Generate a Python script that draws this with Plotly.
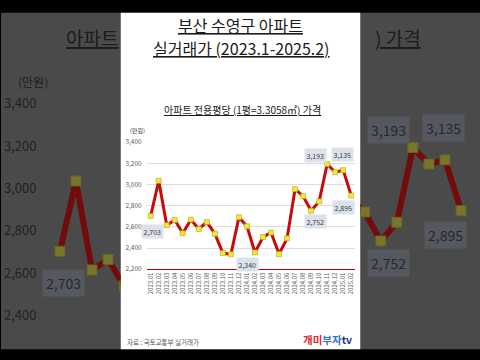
import plotly.graph_objects as go

# ---------------- data ----------------
months = ['2023.01', '2023.02', '2023.03', '2023.04', '2023.05', '2023.06', '2023.07',
          '2023.08', '2023.09', '2023.10', '2023.11', '2023.12', '2024.01', '2024.02',
          '2024.03', '2024.04', '2024.05', '2024.06', '2024.07', '2024.08', '2024.09',
          '2024.10', '2024.11', '2024.12', '2025.01', '2025.02']
prices = [2703, 3035, 2615, 2665, 2540, 2668, 2580, 2645, 2535, 2352, 2340, 2690, 2605,
          2358, 2503, 2546, 2343, 2491, 2956, 2889, 2752, 2840, 3193, 3115, 3135, 2895]
y_ticks = [2200, 2400, 2600, 2800, 3000, 3200, 3400]
labeled = [0, 10, 20, 22, 24, 25]          # indices of points with value labels

# ---------------- style ----------------
FONT = "Noto Sans CJK KR"
TITLE_FONT = "Liberation Sans Narrow, Noto Sans CJK KR"
W, H = 480, 360
# label offsets (px, screen: right / up) for the labelled points
label_shift = {0: (2, -16), 10: (17, -10), 20: (4, -11), 22: (-12, 9), 24: (-1, 16), 25: (-8, -12)}


def px_x(p):
    return p / W


def px_y(p):
    return 1 - p / H


fig = go.Figure()

# main chart
fig.add_trace(go.Scatter(
    x=months, y=prices, mode='lines+markers', xaxis='x', yaxis='y',
    line=dict(color='#c80a0a', width=3),
    marker=dict(symbol='square', size=5, color='#f2e640', line=dict(color='#b9a900', width=0.6)),
    hoverinfo='skip', showlegend=False))

# blurred / zoomed background copies (left and right)
for xa, ya in (('x2', 'y2'), ('x3', 'y3')):
    fig.add_trace(go.Scatter(
        x=months, y=prices, mode='lines+markers', xaxis=xa, yaxis=ya,
        line=dict(color='#720c0c', width=6),
        marker=dict(symbol='square', size=10, color='#78762a', line=dict(color='#686320', width=1)),
        hoverinfo='skip', showlegend=False, cliponaxis=True))

annotations = []
for i in labeled:
    dx, dy = label_shift[i]
    annotations.append(dict(
        x=i, y=prices[i], xref='x', yref='y', text=f"{prices[i]:,}", showarrow=False,
        xanchor='center', yanchor='middle',
        xshift=dx, yshift=dy, bgcolor='#dbe2eb', borderpad=1.5,
        font=dict(family=FONT, size=7, color='#404040')))
    for xa, ya in (('x2', 'y2'), ('x3', 'y3')):
        annotations.append(dict(
            x=i, y=prices[i], xref=xa, yref=ya, text=f"{prices[i]:,}", showarrow=False,
            xanchor='center', yanchor='middle',
            xshift=2 * dx, yshift=2 * dy, bgcolor='#55595f', borderpad=3,
            font=dict(family=FONT, size=14, color='#24282e')))

# background zoomed texts
annotations += [
    dict(x=px_x(15), y=px_y(78), xref='paper', yref='paper', xanchor='left', yanchor='middle',
         showarrow=False, text='(만원)', font=dict(family=FONT, size=12, color='#1e1e1e')),
    dict(x=px_x(63), y=px_y(32), xref='paper', yref='paper', xanchor='left', yanchor='middle',
         showarrow=False, text='<u>아파트</u>', font=dict(family=FONT, size=19, color='#1c1c1c')),
    dict(x=px_x(423), y=px_y(32), xref='paper', yref='paper', xanchor='right', yanchor='middle',
         showarrow=False, text='<u>) 가격</u>', font=dict(family=FONT, size=19, color='#1c1c1c')),
]

# panel texts
annotations += [
    dict(x=px_x(240), y=px_y(20), xref='paper', yref='paper', xanchor='center', yanchor='middle',
         showarrow=False, text='<u>부산 수영구 아파트</u>',
         font=dict(family=TITLE_FONT, size=16, color='#1a1a1a')),
    dict(x=px_x(241.5), y=px_y(43.5), xref='paper', yref='paper', xanchor='center', yanchor='middle',
         showarrow=False, text='<u>실거래가 (2023.1-2025.2)</u>',
         font=dict(family=TITLE_FONT, size=16, color='#1a1a1a')),
    dict(x=px_x(242), y=px_y(106.5), xref='paper', yref='paper', xanchor='center', yanchor='middle',
         showarrow=False, text='<u>아파트 전용평당 (1평=3.3058㎡) 가격</u>',
         font=dict(family=FONT, size=10, color='#1a1a1a')),
    dict(x=px_x(127), y=px_y(128), xref='paper', yref='paper', xanchor='left', yanchor='middle',
         showarrow=False, text='(만원)', font=dict(family=FONT, size=6, color='#404040')),
    dict(x=px_x(124), y=px_y(346), xref='paper', yref='paper', xanchor='left', yanchor='middle',
         showarrow=False, text='자료 : 국토교통부 실거래가',
         font=dict(family=FONT, size=6.5, color='#555555')),
    dict(x=px_x(354), y=px_y(343), xref='paper', yref='paper', xanchor='right', yanchor='middle',
         showarrow=False,
         text="<b><span style='color:#e0262b'>개미</span><span style='color:#2f6fd0'>부자</span>"
              "<span style='color:#1d3a70'>tv</span></b>",
         font=dict(family=FONT, size=10.5)),
]

shapes = [
    dict(type='rect', xref='paper', yref='paper', x0=0, x1=1, y0=px_y(353), y1=px_y(7),
         fillcolor='#4a4a4a', line=dict(width=0), layer='below'),
    dict(type='rect', xref='paper', yref='paper', x0=px_x(120), x1=px_x(360), y0=px_y(353), y1=px_y(7),
         fillcolor='#ffffff', line=dict(width=0), layer='below'),
]

bg_y_range = [2241, 3829]

fig.update_layout(
    width=W, height=H, margin=dict(l=0, r=0, t=0, b=0),
    paper_bgcolor='#000000', plot_bgcolor='rgba(0,0,0,0)',
    showlegend=False, annotations=annotations, shapes=shapes,
    font=dict(family=FONT),
    xaxis=dict(domain=[px_x(146), px_x(355)], range=[-0.5, 25.5], type='category',
               tickmode='array', tickvals=months, ticktext=months, tickangle=-90,
               tickfont=dict(family=FONT, size=6, color='#595959'),
               showgrid=False, showline=True, linecolor='#c00000', linewidth=1,
               ticks='', zeroline=False, anchor='y'),
    yaxis=dict(domain=[px_y(270.7), px_y(140)], range=[2200, 3400], tickmode='array',
               tickvals=y_ticks, ticktext=[f"{v:,}" for v in y_ticks],
               tickfont=dict(family=FONT, size=6.5, color='#595959'),
               showgrid=True, gridcolor='#dedede', gridwidth=0.6, zeroline=False,
               ticks='', ticklabelstandoff=4, anchor='x'),
    xaxis2=dict(domain=[0, px_x(120)], range=[-3.67, 3.79], type='category',
                showticklabels=False, showgrid=False, zeroline=False, ticks='', anchor='y2'),
    yaxis2=dict(domain=[px_y(353), px_y(7)], range=bg_y_range, tickmode='array',
                tickvals=y_ticks, ticktext=[f"{v:,}" for v in y_ticks],
                ticklabelposition='inside', tickfont=dict(family=FONT, size=13, color='#222222'),
                showgrid=False, zeroline=False, ticks='', anchor='x2'),
    xaxis3=dict(domain=[px_x(360), 1], range=[18.72, 26.18], type='category',
                showticklabels=False, showgrid=False, zeroline=False, ticks='', anchor='y3'),
    yaxis3=dict(domain=[px_y(353), px_y(7)], range=bg_y_range, tickmode='array',
                tickvals=y_ticks, showticklabels=False,
                showgrid=False, zeroline=False, ticks='', anchor='x3'),
)

fig.write_html("out.html", config={'displayModeBar': False},
               post_script="document.body.style.margin='0';")
